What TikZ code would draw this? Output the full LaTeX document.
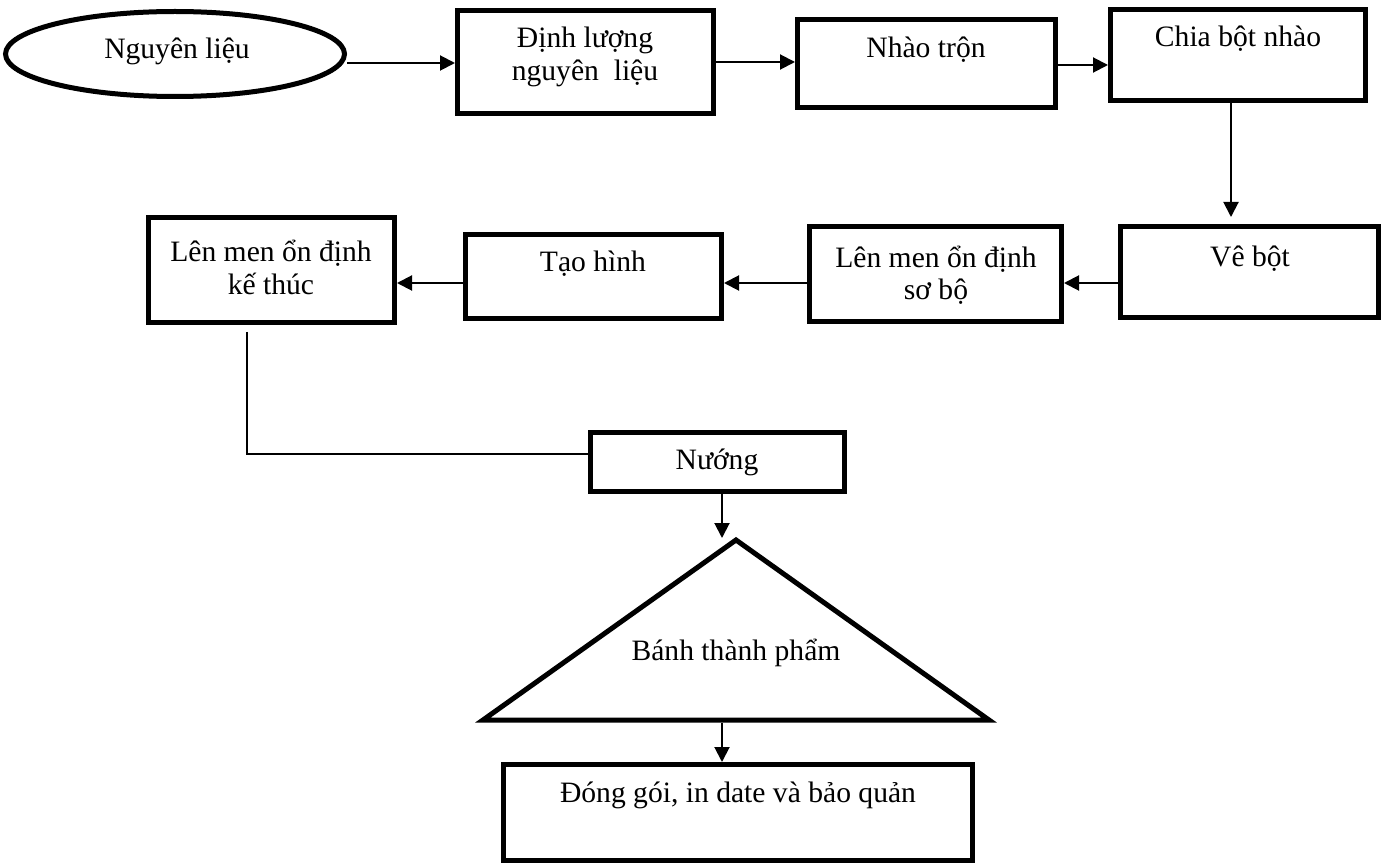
\documentclass[tikz,border=0pt]{standalone}
\usepackage{fontspec}
\setmainfont{Liberation Serif}
\usetikzlibrary{arrows.meta,shapes.geometric}

\begin{document}
\begin{tikzpicture}[x=0.5pt,y=-0.5pt,
  font=\fontsize{14.8pt}{16.5pt}\selectfont,
  stepbox/.style={draw, line width=2.5pt, inner sep=0pt, rectangle},
  txt/.style={inner sep=0pt, align=center, anchor=base},
  arr/.style={line width=1pt, -{Triangle[length=7.5pt,width=7.5pt]}},
  link/.style={line width=0.75pt}]

\useasboundingbox (0,0) rectangle (1388,866);

% top row
\node[draw, ellipse, line width=2.5pt, inner sep=0pt,
      minimum width=169.5pt, minimum height=42.5pt] (e) at (175,54) {};
\node[txt] (te) at (177,59) {Nguyên liệu};

\node[stepbox, minimum width=128pt, minimum height=51.5pt] (b1) at (585.5,62) {};
% two-line texts are placed by the baseline of their last line
\node[txt] (t1) at (585,81) {Định lượng\\nguyên\ \ liệu};

\node[stepbox, minimum width=129pt, minimum height=44pt] (b2) at (926.5,63.5) {};
\node[txt] (t2) at (926,58) {Nhào trộn};

\node[stepbox, minimum width=127.5pt, minimum height=45.5pt] (b3) at (1238,55) {};
\node[txt] (t3) at (1238,47) {Chia bột nhào};

% second row
\node[stepbox, minimum width=129pt, minimum height=45.5pt] (b4) at (1249.5,272) {};
\node[txt] (t4) at (1250,267) {Vê bột};

\node[stepbox, minimum width=126pt, minimum height=47.5pt] (b5) at (935.5,274) {};
\node[txt] (t5) at (936,300) {Lên men ổn định\\sơ bộ};

\node[stepbox, minimum width=128pt, minimum height=42pt] (b6) at (593.5,276.5) {};
\node[txt] (t6) at (593,272) {Tạo hình};

\node[stepbox, minimum width=123pt, minimum height=52.5pt] (b7) at (271.5,270) {};
\node[txt] (t7) at (271,295) {Lên men ổn định\\kế thúc};

% baking, product, packing
\node[stepbox, minimum width=127pt, minimum height=29.5pt] (b8) at (717.5,462) {};
\node[txt] (t8) at (717,469) {Nướng};

\coordinate (tapex) at (736,540);
\coordinate (tleft) at (483,720);
\coordinate (tright) at (989,720);
\draw[line width=2.5pt, line join=miter] (tapex) -- (tright) -- (tleft) -- cycle;
\node[txt] (tp) at (736,660) {Bánh thành phẩm};

\node[stepbox, minimum width=234.5pt, minimum height=48pt] (b9) at (738,812.5) {};
\node[txt] (t9) at (738,802) {Đóng gói, in date và bảo quản};

% connectors
\draw[arr] ([yshift=-4.5pt]e.east) -- ([yshift=-4.5pt]e.east -| b1.west);
\draw[arr] (b1.east |- 0,62) -- (b2.west |- 0,62);
\draw[arr] (b2.east |- 0,65) -- (b3.west |- 0,65);
\draw[arr, shorten >=3.5pt] (b3.south -| 1231,0) -- (b4.north -| 1231,0);
\draw[arr] (b4.west |- 0,283) -- (b5.east |- 0,283);
\draw[arr] (b5.west |- 0,283) -- (b6.east |- 0,283);
\draw[arr] (b6.west |- 0,283) -- (b7.east |- 0,283);
\draw[link, shorten <=3.5pt] (b7.south -| 247,0) |- (b8.west |- 0,454);
\draw[arr, shorten >=1pt] (b8.south -| 722,0) -- (tapex -| 722,0);
\draw[arr, shorten <=1.25pt] (tleft -| 722,0) -- (b9.north -| 722,0);

\end{tikzpicture}
\end{document}
